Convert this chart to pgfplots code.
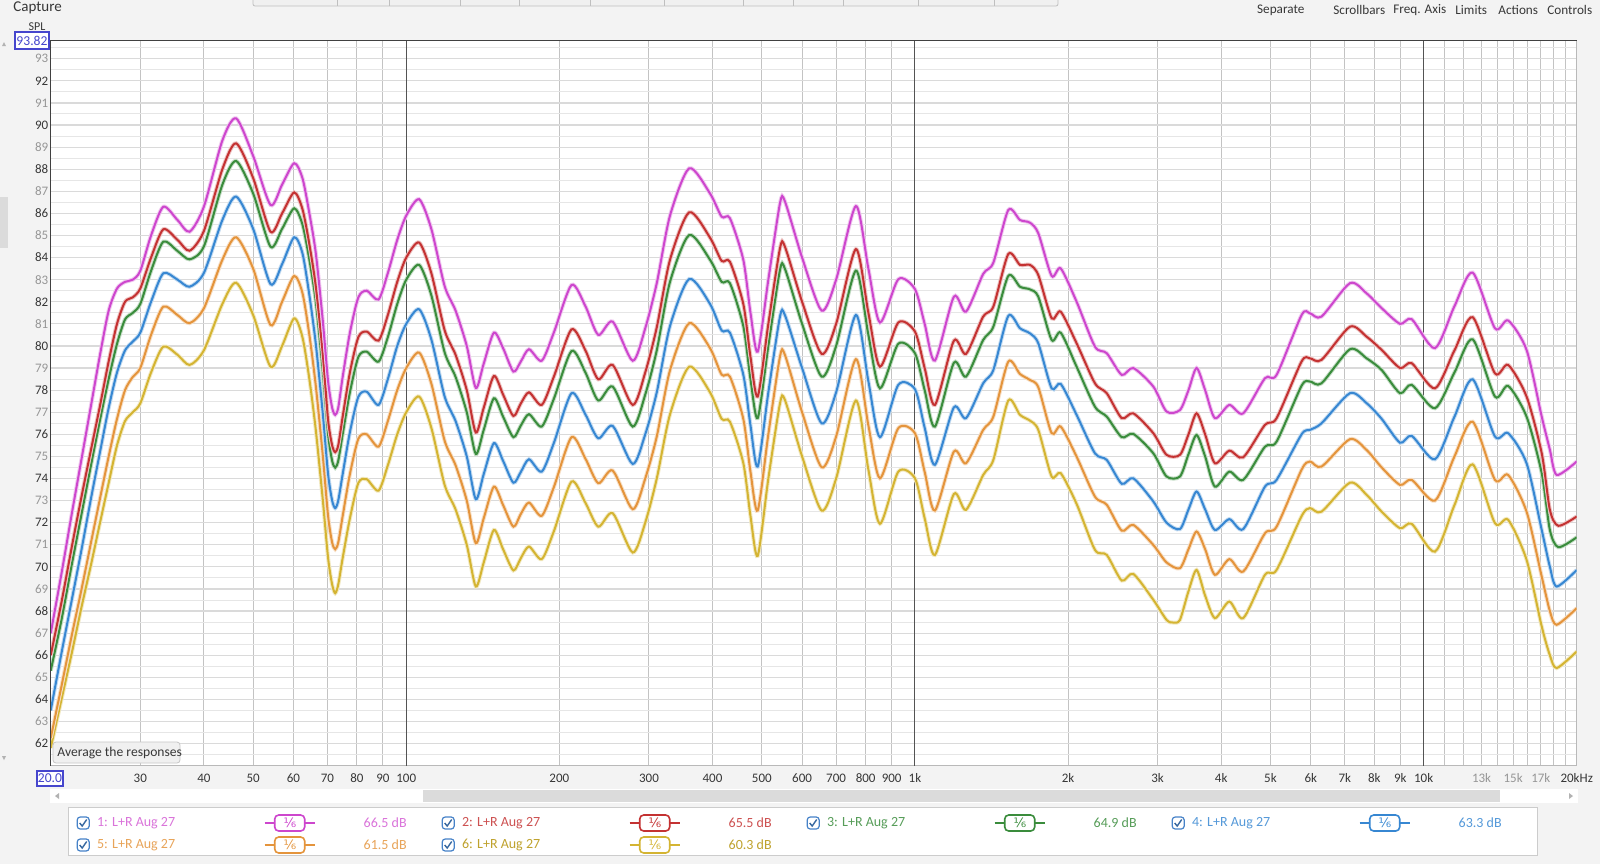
\documentclass[border=0pt]{standalone}
\usepackage{pgfplots}
\pgfplotsset{compat=1.18}
\usepackage{fontspec}
\setmainfont{Carlito}
\newfontfamily\dejavu{DejaVu Sans}
\definecolor{cMag}{RGB}{205,70,205}
\definecolor{cRed}{RGB}{196,50,50}
\definecolor{cGrn}{RGB}{58,140,60}
\definecolor{cBlu}{RGB}{55,135,210}
\definecolor{cOra}{RGB}{228,148,60}
\definecolor{cYel}{RGB}{212,180,50}
\definecolor{uibg}{RGB}{243,243,243}
\definecolor{gridh}{RGB}{218,218,218}
\definecolor{gridhm}{RGB}{230,230,230}
\definecolor{gridv}{RGB}{195,195,195}
\definecolor{tickdark}{RGB}{55,55,55}
\definecolor{ticklight}{RGB}{150,150,150}
\definecolor{selblue}{RGB}{70,70,205}
\definecolor{chkblue}{RGB}{70,130,200}
\newcommand{\tickfont}{\fontsize{6.5}{7}\selectfont}
\newcommand{\legfont}{\fontsize{7}{8}\selectfont}
\newcommand{\Dk}[1]{\textcolor{tickdark}{#1}}
\newcommand{\Lt}[1]{\textcolor{ticklight}{#1}}
\newcommand{\chk}[2]{%
  \draw[rounded corners=1.5pt, draw=chkblue, line width=0.6pt, fill=white] (#1-6,#2-6) rectangle (#1+6,#2+6);
  \draw[line width=0.7pt, draw=chkblue!80!black] (#1-3.5,#2) -- (#1-1,#2+3) -- (#1+3.5,#2-3.5);}
\newcommand{\legentry}[6]{%
  \chk{#1-13.5}{#2}
  \node[anchor=west, inner sep=0pt, text=#4, font=\legfont] at (#1,#2) {#5};
  \draw[#3, line width=0.8pt] (#1+168,#2) -- (#1+218,#2);
  \draw[#3, line width=0.8pt, fill=white, rounded corners=2pt] (#1+178,#2-8) rectangle (#1+208,#2+8);
  \node[text=#3, font=\dejavu\fontsize{6.5}{6.5}\selectfont, inner sep=0pt] at (#1+193.3,#2) {⅙};
  \node[anchor=west, inner sep=0pt, text=#4, font=\legfont] at (#1+266.6,#2) {#6};}
\begin{document}
\begin{tikzpicture}
\begin{scope}[x=0.5pt,y=-0.5pt]
\useasboundingbox (0,0) rectangle (1600,864);
\fill[uibg] (0,0) rectangle (1600,864);
% top toolbar strip
\draw[fill=gray!12, draw=gray!50, rounded corners=1pt] (253,-4) rectangle (1058,6);
\foreach \sx in {337,389,460,519,590,664,743,793,843,918,994}{\draw[gray!50] (\sx,-2) -- (\sx,6);}
\node[anchor=west, inner sep=0pt, text=tickdark, font=\fontsize{7.5}{8}\selectfont] at (13,8) {Capture};
\foreach \tx/\tt in {1256.7/Separate,1333/Scrollbars,1393/Freq. Axis,1455/Limits,1498/Actions,1547/Controls}{
  \node[anchor=west, inner sep=0pt, text=tickdark, font=\fontsize{6.6}{7}\selectfont] at (\tx,10) {\tt};}
% left scrollbar
\fill[gray!28] (0,197) rectangle (8,248);
\fill[gray!60] (2,46) -- (6,46) -- (4,42) -- cycle;
\fill[gray!60] (2,756) -- (6,756) -- (4,760) -- cycle;
% bottom scrollbar
\fill[white] (50,789) rectangle (1578,803);
\fill[gray!28] (423,790) rectangle (1500,802);
\fill[gray!60] (59,793) -- (59,799) -- (55,796) -- cycle;
\fill[gray!60] (1569,793) -- (1569,799) -- (1573,796) -- cycle;
% legend panel
\draw[fill=white, draw=gray!40] (68,807) rectangle (1537,855);
\legentry{96.7}{823}{cMag}{cMag!75}{1: L+R Aug 27}{66.5 dB}
\legentry{461.7}{823}{cRed}{cRed!85}{2: L+R Aug 27}{65.5 dB}
\legentry{826.7}{823}{cGrn}{cGrn!85}{3: L+R Aug 27}{64.9 dB}
\legentry{1191.7}{823}{cBlu}{cBlu!85}{4: L+R Aug 27}{63.3 dB}
\legentry{96.7}{845}{cOra}{cOra!85}{5: L+R Aug 27}{61.5 dB}
\legentry{461.7}{845}{cYel}{cYel!90!black}{6: L+R Aug 27}{60.3 dB}
\end{scope}

\begin{axis}[
  at={(25.35pt,-382.85pt)}, anchor=south west,
  scale only axis, width=763pt, height=362.55pt,
  xmode=log, xmin=20, xmax=20000, ymin=61, ymax=93.82,
  axis background/.style={fill=white},
  axis line style={draw=gray!55, line width=0.5pt},
  major tick length=0pt, minor tick length=0pt,
  xtick={20,30,40,50,60,70,80,90,100,200,300,400,500,600,700,800,900,1000,2000,3000,4000,5000,6000,7000,8000,9000,10000,13000,15000,17000,20000},
  xticklabels={,30,40,50,60,70,80,90,100,200,300,400,500,600,700,800,900,1k,2k,3k,4k,5k,6k,7k,8k,9k,10k,\Lt{13k},\Lt{15k},\Lt{17k},20kHz},
  minor xtick={11000,12000,14000,16000,18000,19000},
  ytick={62,63,...,93},
  minor ytick={61.5,62.5,...,93.5},
  yticklabels={\Dk{62},\Lt{63},\Dk{64},\Lt{65},\Dk{66},\Lt{67},\Dk{68},\Lt{69},\Dk{70},\Lt{71},\Dk{72},\Lt{73},\Dk{74},\Lt{75},\Dk{76},\Lt{77},\Dk{78},\Lt{79},\Dk{80},\Lt{81},\Dk{82},\Lt{83},\Dk{84},\Lt{85},\Dk{86},\Lt{87},\Dk{88},\Lt{89},\Dk{90},\Lt{91},\Dk{92},\Lt{93}},
  xticklabel style={font=\tickfont, text=tickdark, anchor=center, yshift=-6.2pt},
  yticklabel style={font=\tickfont, anchor=east, inner sep=1pt},
  grid=both,
  major x grid style={draw=gridv, line width=0.5pt},
  minor x grid style={draw=gridv, line width=0.5pt},
  major y grid style={draw=gridh, line width=0.6pt},
  minor y grid style={draw=gridhm, line width=0.5pt},
  extra x ticks={100,1000,10000},
  extra x tick labels={},
  extra x tick style={grid=major, major x grid style={draw=gray!65!black, line width=0.5pt}},
]
\addplot[cYel, line width=1pt, smooth, tension=0.45, preaction={draw, cYel!30, line width=2pt}] coordinates {
(20,61.8)(21,64.0)(22,66.1)(23,68.2)(24,70.1)(25,72.0)(26,73.8)(27,75.5)(28,76.6)(29,77.0)(30,77.4)(31.5,78.8)(33.3,79.97)(35.5,79.6)(37.5,79.14)(40,79.8)(43.5,81.9)(46.3,82.86)(50,81.4)(54.1,79.06)(57,80.0)(60.2,81.25)(62.5,80.4)(64.5,78.5)(66.4,76.2)(68.5,73.1)(70.2,70.4)(71.5,69.2)(72.5,68.81)(73.5,69.2)(75,70.4)(77.5,72.2)(80.5,73.8)(83.6,73.97)(88.2,73.45)(92,74.6)(96,76.0)(100,77.0)(106,77.71)(112,76.3)(119,73.7)(125,72.6)(131.5,71.0)(137,69.11)(142,70.2)(148.7,71.67)(155,70.8)(162.4,69.84)(168,70.4)(174.3,70.92)(184.6,70.35)(195,71.6)(211.3,73.86)(225,72.9)(238.5,71.82)(254.6,72.43)(278.7,70.65)(295,72.0)(310.8,74.0)(330,76.9)(360,79.06)(395.6,77.9)(416.9,76.7)(432.8,76.57)(459.8,74.7)(475,72.3)(490.8,70.5)(515,74.0)(542.9,77.4)(555,77.56)(600,75.0)(655.6,72.55)(700,74.0)(765.6,77.53)(810,74.4)(853.6,71.95)(927.6,74.31)(1000,74.01)(1045,72.2)(1094.8,70.54)(1193,73.3)(1260,72.58)(1362,74.16)(1426,74.84)(1526,77.53)(1609,76.88)(1683,76.62)(1748,76.2)(1857,74.09)(1935,74.24)(2079,72.85)(2259,70.77)(2383,70.54)(2550,69.38)(2687,69.68)(2942,68.51)(3124,67.6)(3220,67.48)(3319,67.6)(3450,68.9)(3579,69.86)(3720,68.7)(3889,67.68)(4150,68.43)(4420,67.68)(4877,69.64)(5140,69.86)(5757,72.3)(5978,72.66)(6300,72.5)(7164,73.81)(7727,73.26)(8271,72.5)(8988,71.75)(9475,71.95)(10527,70.69)(11500,72.8)(12486,74.64)(13813,71.98)(14665,72.13)(15937,70.32)(17070,67.3)(17713,66.0)(18269,65.42)(20000,66.17)};
\addplot[cOra, line width=1pt, smooth, tension=0.45, preaction={draw, cOra!30, line width=2pt}] coordinates {
(20,62.25)(21,64.6)(22,66.9)(23,69.0)(24,71.1)(25,73.1)(26,75.0)(27,76.7)(28,78.0)(29,78.6)(30,79.0)(31.5,80.5)(33.3,81.78)(35.5,81.4)(37.5,81.03)(40,81.7)(43.5,83.9)(46.3,84.92)(50,83.5)(54.1,80.95)(57,82.0)(60.2,83.17)(62.5,82.4)(64.5,80.5)(66.4,78.2)(68.5,75.1)(70.2,72.3)(71.5,71.1)(72.5,70.8)(73.5,71.1)(75,72.3)(77.5,74.2)(80.5,75.8)(83.6,76.0)(88.2,75.44)(92,76.6)(96,78.0)(100,79.0)(106,79.7)(112,78.3)(119,75.7)(125,74.6)(131.5,73.0)(137,71.07)(142,72.2)(148.7,73.63)(155,72.8)(162.4,71.82)(168,72.4)(174.3,72.91)(184.6,72.31)(195,73.6)(211.3,75.87)(225,74.9)(238.5,73.79)(254.6,74.36)(278.7,72.61)(295,74.0)(310.8,75.9)(330,78.9)(360,81.03)(395.6,79.9)(416.9,78.7)(432.8,78.61)(459.8,76.7)(475,74.3)(490.8,72.55)(515,76.0)(542.9,79.52)(555,79.6)(600,77.0)(655.6,74.51)(700,75.9)(765.6,79.4)(810,76.4)(853.6,74.01)(927.6,76.28)(1000,76.05)(1045,74.3)(1094.8,72.55)(1193,75.22)(1260,74.69)(1362,76.2)(1426,76.8)(1526,79.29)(1609,78.73)(1683,78.46)(1748,78.13)(1857,76.05)(1935,76.35)(2079,74.99)(2259,73.18)(2383,72.81)(2550,71.64)(2687,71.9)(2942,70.99)(3124,70.2)(3319,69.94)(3450,70.8)(3579,71.6)(3720,70.8)(3889,69.64)(4150,70.35)(4420,69.79)(4877,71.52)(5140,71.82)(5757,74.4)(5978,74.77)(6300,74.54)(7164,75.78)(7727,75.29)(8271,74.5)(8988,73.71)(9475,73.94)(10527,73.0)(11500,75.0)(12486,76.57)(13813,73.94)(14665,74.16)(15937,72.5)(17070,69.56)(17713,68.0)(18269,67.38)(20000,68.13)};
\addplot[cBlu, line width=1pt, smooth, tension=0.45, preaction={draw, cBlu!30, line width=2pt}] coordinates {
(20,63.5)(21,66.1)(22,68.5)(23,70.8)(24,73.1)(25,75.2)(26,77.2)(27,78.8)(28,79.8)(29,80.2)(30,80.6)(31.5,82.0)(33.3,83.29)(35.5,83.0)(37.5,82.68)(40,83.3)(43.5,85.7)(46.3,86.76)(50,85.3)(54.1,82.8)(57,83.7)(60.2,84.92)(62.5,84.2)(64.5,82.3)(66.4,80.1)(68.5,77.0)(70.2,74.2)(71.5,73.0)(72.5,72.66)(73.5,73.0)(75,74.2)(77.5,76.1)(80.5,77.7)(83.6,77.93)(88.2,77.33)(92,78.5)(96,80.0)(100,81.0)(106,81.66)(112,80.3)(119,77.7)(125,76.6)(131.5,75.0)(137,73.06)(142,74.2)(148.7,75.6)(155,74.8)(162.4,73.81)(168,74.3)(174.3,74.87)(184.6,74.31)(195,75.6)(211.3,77.86)(225,76.9)(238.5,75.82)(254.6,76.38)(278.7,74.66)(295,76.0)(310.8,77.9)(330,80.9)(360,83.03)(395.6,81.9)(416.9,80.7)(432.8,80.6)(459.8,78.7)(475,76.4)(490.8,74.54)(515,77.9)(542.9,81.33)(555,81.4)(600,79.0)(655.6,76.5)(700,77.9)(765.6,81.4)(810,78.4)(853.6,75.87)(927.6,78.24)(1000,78.04)(1045,76.3)(1094.8,74.62)(1193,77.22)(1260,76.73)(1362,78.31)(1426,78.91)(1526,81.36)(1609,80.8)(1683,80.57)(1748,80.12)(1857,78.08)(1935,78.28)(2079,76.88)(2259,75.14)(2383,74.84)(2550,73.76)(2687,74.01)(2942,72.96)(3124,72.0)(3319,71.71)(3450,72.6)(3579,73.41)(3720,72.6)(3889,71.67)(4150,72.16)(4420,71.71)(4877,73.63)(5140,73.94)(5757,76.0)(5978,76.2)(6300,76.5)(7164,77.86)(7727,77.41)(8271,76.7)(8988,75.62)(9475,75.93)(10527,74.87)(11500,76.8)(12486,78.49)(13813,75.9)(14665,76.05)(15937,74.69)(17070,71.67)(17713,70.0)(18269,69.11)(20000,69.86)};
\addplot[cGrn, line width=1pt, smooth, tension=0.45, preaction={draw, cGrn!30, line width=2pt}] coordinates {
(20,65.3)(21,67.6)(22,70.1)(23,72.4)(24,74.6)(25,76.65)(26,78.5)(27,80.1)(28,81.2)(29,81.5)(30,81.9)(31.5,83.4)(33.3,84.72)(35.5,84.3)(37.5,83.92)(40,84.5)(43.5,87.3)(46.3,88.37)(50,86.9)(54.1,84.49)(57,85.3)(60.2,86.23)(62.5,85.5)(64.5,83.9)(66.4,82.0)(68.5,78.9)(70.2,76.0)(71.5,74.8)(72.5,74.49)(73.5,74.8)(75,76.0)(77.5,77.9)(80.5,79.5)(83.6,79.74)(88.2,79.29)(92,80.4)(96,81.9)(100,83.0)(106,83.67)(112,82.3)(119,79.7)(125,78.6)(131.5,77.0)(137,75.11)(142,76.2)(148.7,77.63)(155,76.8)(162.4,75.87)(168,76.4)(174.3,76.91)(184.6,76.35)(195,77.6)(211.3,79.77)(225,78.8)(238.5,77.53)(254.6,78.16)(278.7,76.35)(295,77.8)(310.8,79.8)(330,82.9)(360,85.02)(395.6,83.9)(416.9,82.9)(432.8,82.84)(459.8,80.9)(475,78.5)(490.8,76.73)(515,80.0)(542.9,83.44)(555,83.5)(600,81.0)(655.6,78.61)(700,80.0)(765.6,83.41)(810,80.5)(853.6,78.08)(927.6,80.1)(1000,79.67)(1045,78.0)(1094.8,76.35)(1193,79.24)(1260,78.61)(1362,80.27)(1426,80.87)(1526,83.17)(1609,82.68)(1683,82.56)(1748,82.23)(1857,80.27)(1935,80.6)(2079,79.06)(2259,77.25)(2383,76.8)(2550,75.87)(2687,76.02)(2942,75.14)(3124,74.09)(3319,74.09)(3450,75.1)(3579,75.97)(3720,75.0)(3889,73.63)(4150,74.31)(4420,73.94)(4877,75.44)(5140,75.67)(5757,78.2)(5978,78.39)(6300,78.31)(7164,79.85)(7727,79.44)(8271,78.91)(8988,77.86)(9475,78.24)(10527,77.18)(11500,78.8)(12486,80.3)(13813,77.71)(14665,78.19)(15937,76.8)(17070,74.24)(17713,71.67)(18404,70.89)(20000,71.34)};
\addplot[cRed, line width=1pt, smooth, tension=0.45, preaction={draw, cRed!30, line width=2pt}] coordinates {
(20,66.0)(21,68.4)(22,70.9)(23,73.2)(24,75.3)(25,77.3)(26,79.3)(27,81.0)(28,82.0)(29,82.2)(30,82.6)(31.5,84.0)(33.3,85.28)(35.5,84.8)(37.5,84.31)(40,85.2)(43.5,88.0)(46.3,89.17)(50,87.6)(54.1,85.17)(57,86.0)(60.2,86.95)(62.5,86.2)(64.5,84.6)(66.4,82.7)(68.5,79.7)(70.2,76.65)(71.5,75.5)(72.5,75.19)(73.5,75.5)(75,76.8)(77.5,78.8)(80.5,80.4)(83.6,80.65)(88.2,80.24)(92,81.4)(96,82.9)(100,84.0)(106,84.68)(112,83.3)(119,80.7)(125,79.6)(131.5,78.0)(137,76.08)(142,77.2)(148.7,78.64)(155,77.8)(162.4,76.83)(168,77.4)(174.3,77.9)(184.6,77.33)(195,78.6)(211.3,80.75)(225,79.8)(238.5,78.49)(254.6,79.14)(278.7,77.33)(295,78.8)(310.8,80.84)(330,83.9)(360,86.05)(395.6,84.9)(416.9,83.85)(432.8,83.81)(459.8,81.9)(475,79.5)(490.8,77.71)(515,81.0)(542.9,84.42)(555,84.5)(600,82.0)(655.6,79.64)(700,81.0)(765.6,84.38)(810,81.5)(853.6,79.06)(927.6,81.06)(1000,80.65)(1045,79.0)(1094.8,77.33)(1193,80.24)(1260,79.64)(1362,81.33)(1426,81.78)(1526,84.16)(1609,83.67)(1683,83.67)(1748,83.21)(1857,81.25)(1935,81.55)(2079,80.12)(2259,78.31)(2383,77.86)(2550,76.73)(2687,76.95)(2942,76.05)(3124,75.07)(3319,75.07)(3450,76.0)(3579,76.95)(3720,76.0)(3889,74.69)(4150,75.26)(4420,74.96)(4877,76.43)(5140,76.73)(5757,79.3)(5978,79.44)(6300,79.37)(7164,80.87)(7727,80.42)(8271,79.82)(8988,79.0)(9475,79.22)(10527,78.08)(11500,79.8)(12486,81.3)(13813,78.76)(14665,79.14)(15937,77.71)(17070,75.14)(17713,72.58)(18404,71.86)(20000,72.28)};
\addplot[cMag, line width=1pt, smooth, tension=0.45, preaction={draw, cMag!30, line width=2pt}] coordinates {
(20,67.0)(21,69.7)(22,72.4)(23,74.9)(24,77.3)(25,79.6)(26,81.6)(27,82.6)(28,82.9)(29,83.0)(30,83.4)(31.5,85.0)(33.3,86.3)(35.5,85.7)(37.5,85.17)(40,86.3)(43.5,89.3)(46.3,90.3)(50,88.6)(54.1,86.38)(57,87.3)(60.2,88.27)(62.5,87.6)(64.5,86.0)(66.4,84.2)(68.5,81.2)(70.2,78.4)(71.5,77.2)(72.5,76.88)(73.5,77.2)(75,78.6)(77.5,80.6)(80.5,82.2)(83.6,82.5)(88.2,82.1)(92,83.3)(96,84.8)(100,85.9)(106,86.64)(112,85.3)(119,82.7)(125,81.6)(131.5,80.0)(137,78.1)(142,79.2)(148.7,80.6)(155,79.9)(162.4,78.84)(168,79.3)(174.3,79.85)(184.6,79.33)(195,80.6)(211.3,82.76)(225,81.8)(238.5,80.5)(254.6,81.1)(278.7,79.33)(295,80.8)(310.8,82.84)(330,85.9)(360,88.04)(395.6,86.9)(416.9,85.85)(432.8,85.78)(459.8,83.9)(475,81.5)(490.8,79.74)(515,83.0)(542.9,86.46)(555,86.55)(600,84.0)(655.6,81.6)(700,83.0)(765.6,86.33)(810,83.5)(853.6,81.06)(927.6,83.02)(1000,82.57)(1045,81.0)(1094.8,79.34)(1193,82.23)(1260,81.55)(1362,83.26)(1426,83.77)(1526,86.15)(1609,85.7)(1683,85.58)(1748,85.1)(1857,83.17)(1935,83.51)(2079,82.0)(2259,79.97)(2383,79.67)(2550,78.69)(2687,79.0)(2942,78.16)(3124,77.03)(3319,77.1)(3450,78.0)(3579,79.0)(3720,78.0)(3889,76.73)(4150,77.33)(4420,76.95)(4877,78.54)(5140,78.69)(5757,81.4)(5978,81.48)(6300,81.33)(7164,82.84)(7727,82.38)(8271,81.71)(8988,81.0)(9475,81.21)(10527,79.9)(11500,81.8)(12486,83.32)(13813,80.8)(14665,81.15)(15937,79.82)(17070,76.8)(17713,75.3)(18269,74.16)(20000,74.77)};
\end{axis}

\begin{scope}[x=0.5pt,y=-0.5pt]
% darker left and top axis lines
\draw[black!75, line width=0.7pt] (50.7,765.7) -- (50.7,40.6) -- (1576.7,40.6);
% SPL label and boxed values
\node[text=tickdark, font=\fontsize{6}{6}\selectfont, inner sep=0pt] at (37,27) {SPL};
\draw[fill=white, draw=selblue, line width=0.6pt] (15,32) rectangle (49,49);
\node[text=selblue, font=\fontsize{6.8}{7}\selectfont, inner sep=0pt] at (32,40.5) {93.82};
\draw[fill=white, draw=selblue, line width=0.6pt] (37,771) rectangle (63,786);
\node[text=selblue, font=\fontsize{6.8}{7}\selectfont, inner sep=0pt] at (50,778.5) {20.0};
% tooltip
\draw[fill=gray!12, draw=gray!45, rounded corners=1.5pt] (53,742) rectangle (180,763);
\node[anchor=west, text=tickdark, font=\fontsize{6.8}{7}\selectfont, inner sep=0pt] at (57,752.5) {Average the responses};
\end{scope}
\end{tikzpicture}
\end{document}
